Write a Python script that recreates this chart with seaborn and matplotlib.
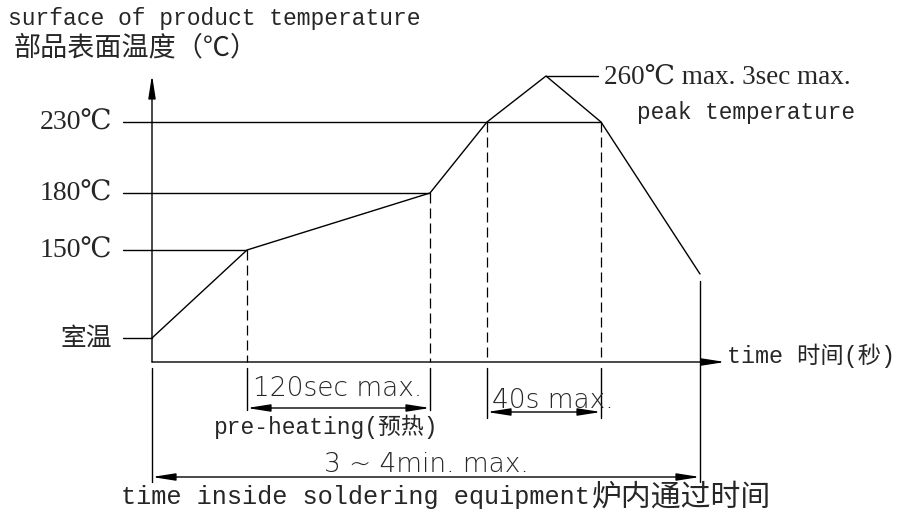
import matplotlib
matplotlib.use("Agg")
import matplotlib.pyplot as plt
import seaborn as sns
import pandas as pd

sns.set_style("white")

mono = ["Liberation Mono", "Noto Sans CJK SC"]
serif = ["Liberation Serif", "DejaVu Serif", "Noto Sans CJK SC"]
thin = ["DejaVu Sans", "Noto Sans CJK SC"]
cjk = ["Noto Sans CJK SC", "DejaVu Sans"]

# profile corners, in drawing units (x to the right, y down)
profile_t = [152, 247, 430, 487, 546, 601, 700]
profile_y = [338, 250, 193, 122, 76, 122, 274]

# temperature levels and where their guide lines stop
level_labels = ["230℃", "180℃", "150℃", "室温"]
level_y = [122, 193, 250, 338]
level_end = [601, 430, 247, 152]

# dashed drops from the curve to the time axis
drop_t = [247, 430, 487, 601]
drop_y = [250, 193, 122, 122]
drop_bottom = [410, 410, 418, 418]

# dimension arrows: start, end, height, label, label position
dims = [
    (247, 430, 408, "120sec max.", 338, 389),
    (487, 601, 412, "40s max.", 553, 400),
    (152, 700, 477, "3 ~ 4min. max.", 426, 464),
]

axis_x0, axis_y0 = 152, 362
axis_top, axis_right = 75, 725

df = pd.DataFrame({"t": profile_t, "y": profile_y})

fig = plt.figure(figsize=(8.99, 5.13), dpi=100)
ax = fig.add_axes([0, 0, 1, 1])

line_kw = dict(color="black", lw=1.0)

# guide lines for each level
for lab, yy, xe in zip(level_labels, level_y, level_end):
    ax.plot([123, xe], [yy, yy], **line_kw)
    fam = cjk if lab == "室温" else serif
    size = 18.5 if lab == "室温" else 20
    ax.text(112, yy + 1, lab, ha="right", va="center", fontsize=size, family=fam)

# temperature curve
sns.lineplot(data=df, x="t", y="y", sort=False, estimator=None, color="black",
             lw=1.0, ax=ax)
ax.set_xlim(0, 899)
ax.set_ylim(513, 0)
ax.axis("off")

# axes with arrows
head = dict(arrowstyle="-|>,head_length=1.4,head_width=0.22", color="black",
            lw=1.0, mutation_scale=10, shrinkA=0, shrinkB=0)
ax.annotate("", xy=(axis_x0, axis_top), xytext=(axis_x0, axis_y0), arrowprops=head)
ax.annotate("", xy=(axis_right, axis_y0), xytext=(axis_x0, axis_y0), arrowprops=head)

# dashed drops and their extension lines below the axis
for t, y0, yb in zip(drop_t, drop_y, drop_bottom):
    ax.plot([t, t], [y0, axis_y0], color="black", lw=0.9, ls=(0, (8, 4)))
    ax.plot([t, t], [368, yb], **line_kw)
ax.plot([axis_x0, axis_x0], [368, 482], **line_kw)
ax.plot([700, 700], [281, 482], **line_kw)

# dimension arrows
both = dict(head, arrowstyle="<|-|>,head_length=1.4,head_width=0.22")
for x0, x1, yy, lab, lx, ly in dims:
    ax.annotate("", xy=(x1, yy), xytext=(x0, yy), arrowprops=both)
    ax.text(lx, ly, lab, ha="center", va="center", fontsize=19, family=thin,
            fontweight="light")

# peak callout
ax.plot([546, 598], [76, 76], **line_kw)
ax.text(604, 77, "260℃ max. 3sec max.", ha="left", va="center", fontsize=19.5,
        family=serif)
ax.text(746, 112, "peak temperature", ha="center", va="center", fontsize=16.4,
        family=mono)

# titles and axis names
ax.text(8, 19, "surface of product temperature", ha="left", va="center",
        fontsize=16.6, family=mono)
ax.text(14, 48, "部品表面温度（℃）", ha="left", va="center", fontsize=19.5,
        family=cjk)
ax.text(727, 356, "time 时间(秒)", ha="left", va="center", fontsize=16.8,
        family=mono)
ax.text(326, 427, "pre-heating(预热)", ha="center", va="center", fontsize=16.5,
        family=mono)
ax.text(590, 497, "time inside soldering equipment", ha="right", va="center",
        fontsize=18.2, family=mono)
ax.text(592, 497, "炉内通过时间", ha="left", va="center", fontsize=21.5,
        family=cjk)

fig.savefig("out.png", dpi=100, facecolor="white")
